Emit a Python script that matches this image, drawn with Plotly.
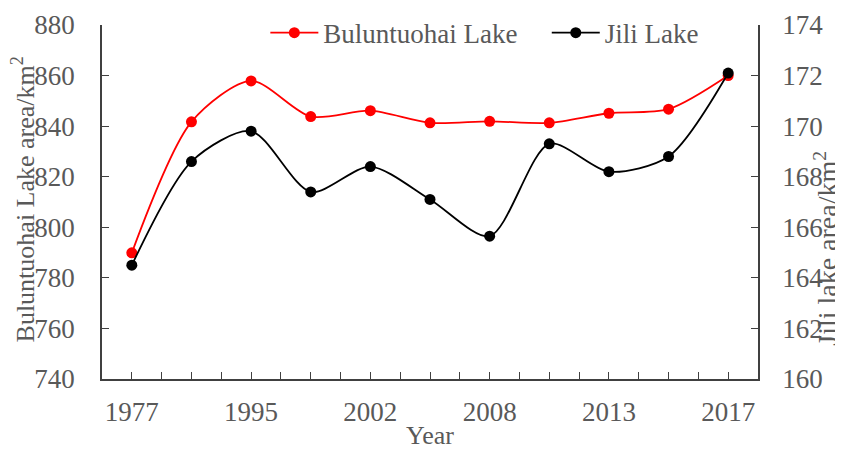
import numpy as np
import plotly.graph_objects as go

years = ["1977", "1990", "1995", "2000", "2002", "2005", "2008", "2010", "2013", "2015", "2017"]
shown_years = ["1977", "1995", "2002", "2008", "2013", "2017"]
buluntuohai = [789.9, 841.7, 857.9, 843.8, 846.1, 841.3, 841.9, 841.3, 845.1, 846.7, 860.0]
jili = [164.5, 168.6, 169.8, 167.4, 168.4, 167.1, 165.65, 169.3, 168.2, 168.8, 172.1]
left_ticks = [740, 760, 780, 800, 820, 840, 860, 880]
right_ticks = [160, 162, 164, 166, 168, 170, 172, 174]

xi = list(range(len(years)))
tickvals = list(np.arange(0, len(years) - 1 + 0.01, 0.5))
ticktext = []
for v in tickvals:
    if float(v).is_integer() and years[int(v)] in shown_years:
        ticktext.append(years[int(v)])
    else:
        ticktext.append(" ")

FONT = "Liberation Serif"
TXT = "#595959"
AX = "#404040"
FS = 27

fig = go.Figure()
fig.add_trace(go.Scatter(
    x=xi, y=buluntuohai, name="Buluntuohai Lake", mode="lines+markers",
    line=dict(color="#ff0000", width=1.8, shape="spline", smoothing=0.8),
    marker=dict(color="#ff0000", size=11), legend="legend",
))
fig.add_trace(go.Scatter(
    x=xi, y=jili, name="Jili Lake", mode="lines+markers", yaxis="y2",
    line=dict(color="#000000", width=1.8, shape="spline", smoothing=0.8),
    marker=dict(color="#000000", size=11), legend="legend2",
))

leg = dict(orientation="h", y=0.977, xanchor="left", yanchor="middle", itemwidth=48,
           font=dict(family=FONT, size=FS, color=TXT), bgcolor="rgba(0,0,0,0)")

fig.update_layout(
    width=835, height=442, autosize=False,
    margin=dict(l=94, r=85, t=17, b=71, autoexpand=False),
    paper_bgcolor="white", plot_bgcolor="white",
    font=dict(family=FONT, size=FS, color=TXT),
    showlegend=True,
    legend=dict(leg, x=0.249),
    legend2=dict(leg, x=0.678),
    xaxis=dict(
        range=[-0.5, len(years) - 0.5], tickmode="array", tickvals=tickvals, ticktext=ticktext,
        tickangle=0,
        ticks="inside", ticklen=7, tickcolor=AX, showline=True, linecolor=AX, linewidth=1.5,
        showgrid=False, zeroline=False, ticklabelstandoff=8, automargin=False,
        tickfont=dict(family=FONT, size=FS, color=TXT),
        title=dict(text="Year", font=dict(family=FONT, size=26, color=TXT), standoff=0),
    ),
    yaxis=dict(
        range=[740, 880], tickmode="array", tickvals=left_ticks,
        ticks="inside", ticklen=7, tickcolor=AX, showline=True, linecolor=AX, linewidth=1.5,
        showgrid=False, zeroline=False, ticklabelstandoff=20, automargin=False,
        tickfont=dict(family=FONT, size=FS, color=TXT),
    ),
    yaxis2=dict(
        range=[160, 174], tickmode="array", tickvals=right_ticks, overlaying="y", side="right",
        ticks="inside", ticklen=7, tickcolor=AX, showline=True, linecolor=AX, linewidth=1.5,
        showgrid=False, zeroline=False, ticklabelstandoff=17, automargin=False,
        tickfont=dict(family=FONT, size=FS, color=TXT),
    ),
    annotations=[
        dict(text="Buluntuohai Lake area/km<sup>2</sup>", textangle=-90, xref="paper", yref="paper",
             x=-0.12, y=0.508, xanchor="center", yanchor="middle", showarrow=False,
             font=dict(family=FONT, size=26, color=TXT)),
        dict(text='Jili lake area/km<sup>2</sup>',
             textangle=-90, xref="paper", yref="paper",
             x=1.133, y=0.37, xanchor="right", yanchor="middle", showarrow=False,
             font=dict(family=FONT, size=28, color=TXT)),
    ],
)

fig.write_html("out.html")
